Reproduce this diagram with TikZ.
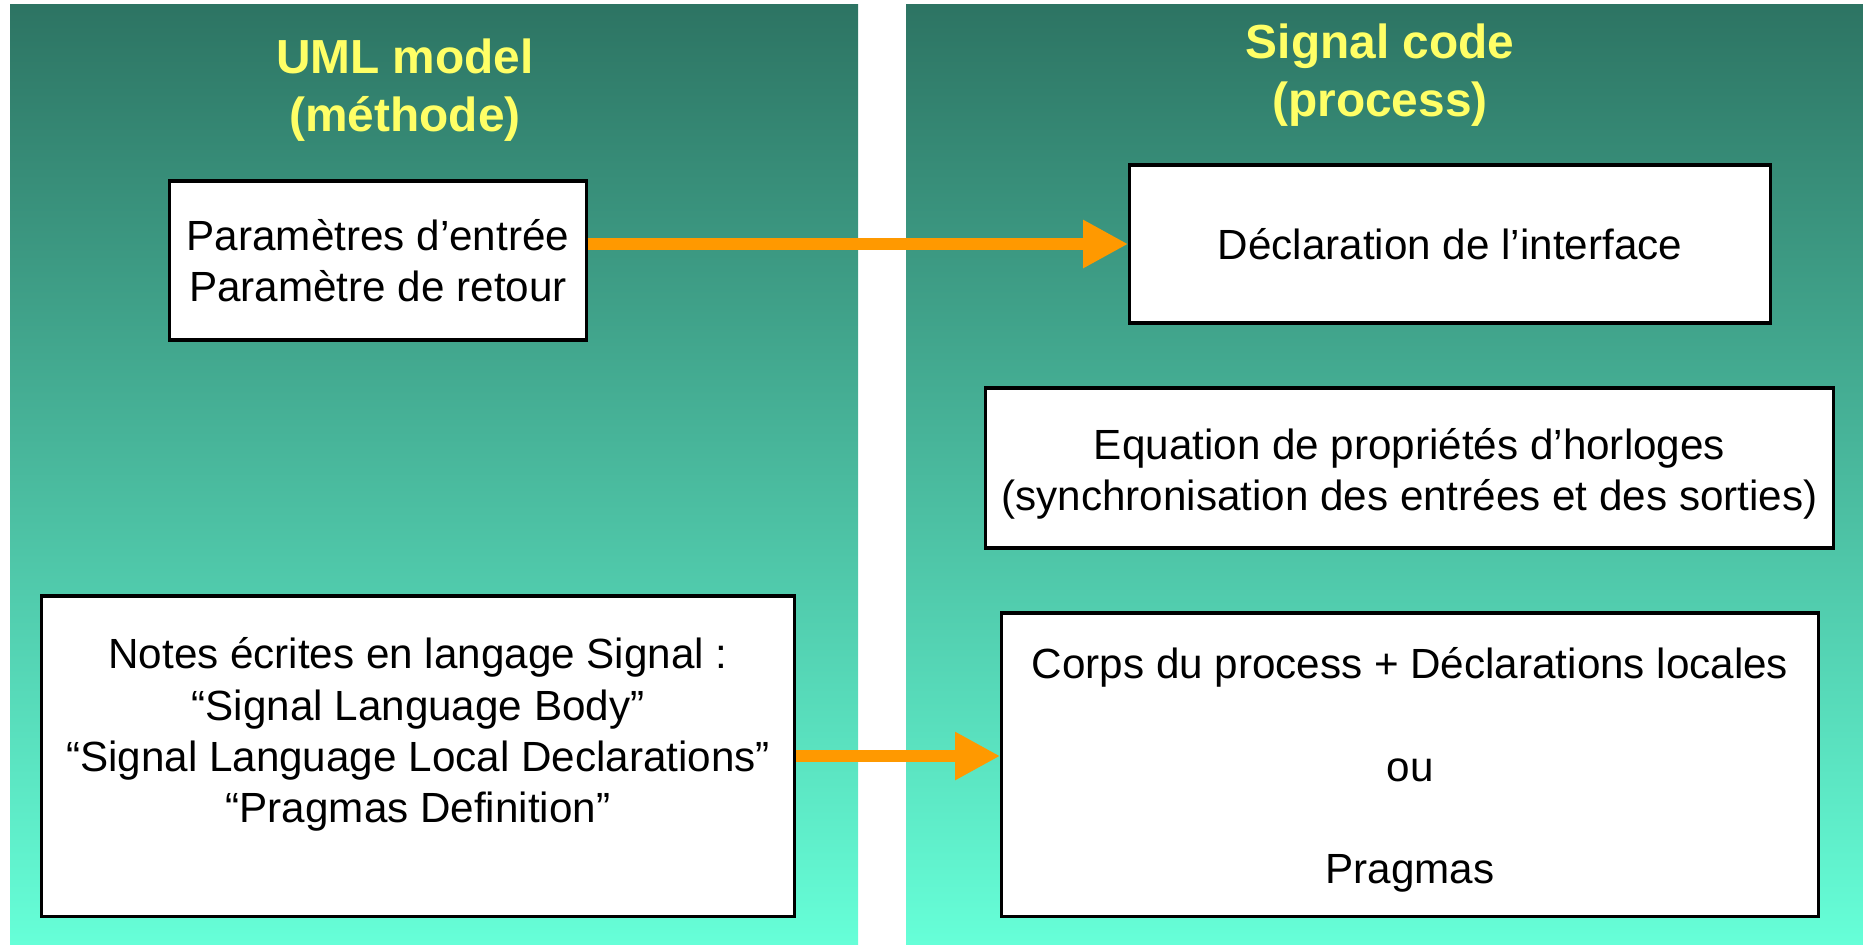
\documentclass[tikz,border=0pt]{standalone}
\usepackage{fontspec}
\setmainfont{Liberation Sans}
\usetikzlibrary{arrows.meta}
\usetikzlibrary{positioning}

\definecolor{panetop}{RGB}{45,116,99}
\definecolor{panebot}{RGB}{102,255,216}
\definecolor{titleyel}{RGB}{255,255,102}
\definecolor{flowor}{RGB}{255,153,0}

\begin{document}
\begin{tikzpicture}[x=0.01cm, y=-0.01cm,
        box/.style={draw=black, line width=0.9pt, fill=white, inner sep=0pt, align=center,
            font=\fontsize{12}{14.6}\selectfont},
        flow/.style={-{Triangle[length=12.8pt, width=12.8pt]}, line width=3.4pt, draw=flowor},
        title/.style={align=center, text=titleyel, font=\fontsize{13.6}{16.5}\selectfont\bfseries}]
                \useasboundingbox(0, 0) rectangle (1863, 944);
                \shade[top color=panetop, bottom color=panebot](10, 4) rectangle (858, 944);
                \shade[top color=panetop, bottom color=panebot](906, 4) rectangle (1863, 944);

                \node[title](umltitle) at (405, 90){UML model\\(méthode)};
                \node[title](sigtitle) at (1380, 75){Signal code\\(process)};

                \node[box, minimum width=4.16cm, minimum height=1.59cm](params) at (378, 260.5)
                    {Paramètres d’entrée\\Paramètre de retour};
                \node[box, minimum width=6.4cm, minimum height=1.58cm](iface) at (1450, 244)
                    {Déclaration de l’interface};
                \node[box, minimum width=8.47cm, minimum height=1.6cm](clocks) at (1409.5, 468)
                    {\rule{0pt}{12pt}Equation de propriétés d’horloges\\(synchronisation des entrées et des sorties)};
                \node[box, minimum width=7.52cm, minimum height=3.2cm](notes) at (418, 756)
                    {Notes écrites en langage Signal :\\“Signal Language Body”\\“Signal Language Local Declarations”\\“Pragmas Definition”\\\mbox{}};
                \node[box, minimum width=8.16cm, minimum height=3.03cm](body) at (1410, 764.5)
                    {\rule{0pt}{12pt}Corps du process + Déclarations locales\\\mbox{}\\ou\\\mbox{}\\Pragmas};

                \draw[flow](params.east |- iface.west)--(iface.west);
                \draw[flow](notes.east)--(notes.east -| body.west);
            \end{tikzpicture}
\end{document}
